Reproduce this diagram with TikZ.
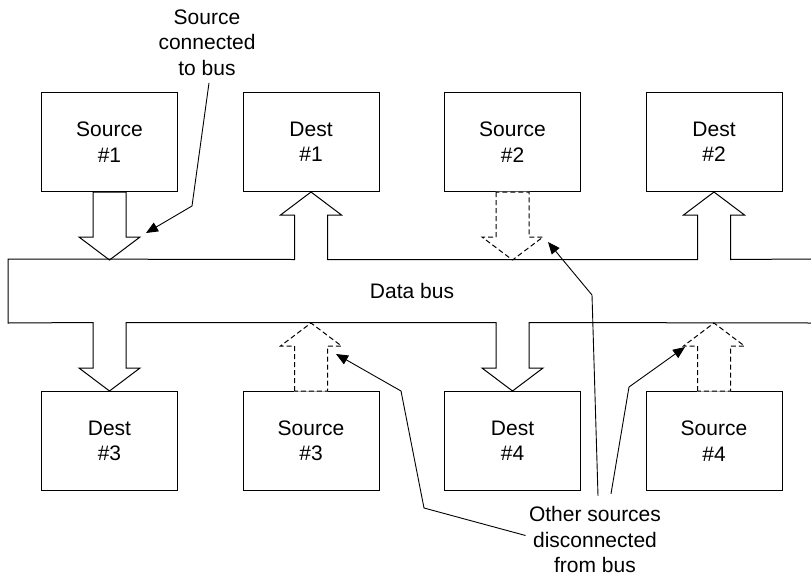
\documentclass[tikz,border=0pt]{standalone}
\usepackage{fontspec}
\setmainfont{Liberation Sans}
\usetikzlibrary{arrows.meta, calc}

\begin{document}
\begin{tikzpicture}[x=1pt, y=-1pt,
		>={Triangle[length=12pt,width=10pt]},   %tips of the callouts
		font=\fontsize{21}{25.5}\selectfont, line width=1pt,
		unit/.style={draw, minimum width=136pt, minimum height=99pt, align=center, inner sep=0pt},
		label/.style={align=center, inner sep=0pt},
		blockon/.style={draw, fill=white},
		blockoff/.style={draw, fill=white, dash pattern=on 5pt off 3pt, preaction={draw=white, solid}},
		callout/.style={->, line width=0.9pt}]
		%Bildbereich
		\useasboundingbox (0,0) rectangle (811,576);
		% top row
		\node[unit] (src1) at (109.5,142) {Source\\\#1};
		\node[unit] (dst1) at (311,142) {Dest\\\#1};
		\node[unit] (src2) at (512.5,142) {Source\\\#2};
		\node[unit] (dst2) at (714,142) {Dest\\\#2};
		% bottom row
		\node[unit] (dst3) at (109.5,441) {Dest\\\#3};
		\node[unit] (src3) at (311,441) {Source\\\#3};
		\node[unit] (dst4) at (512.5,441) {Dest\\\#4};
		\node[unit] (src4) at (714,441) {Source\\\#4};
		% sources: one on the bus, the others off it
		\draw[blockon] (src1.south) ++(-16.5,0) -- ++(0,45) -- ++(-14,0) -- ++(30.5,23) -- ++(30.5,-23) -- ++(-14,0) -- ++(0,-45) -- cycle;
		\draw[blockoff] (src2.south) ++(-16.5,0) -- ++(0,45) -- ++(-14,0) -- ++(30.5,23) -- ++(30.5,-23) -- ++(-14,0) -- ++(0,-45) -- cycle;
		\foreach \s in {src3,src4}
			\draw[blockoff] (\s.north) ++(-16.5,0) -- ++(0,-45) -- ++(-14,0) -- ++(30.5,-23) -- ++(30.5,23) -- ++(-14,0) -- ++(0,45) -- cycle;
		% the bus with the arrows to the destinations
		\draw (811,259) -- ($(dst2.south)+(16.5,67.5)$) -- ++(0,-44.5) -- ++(14,0) -- (dst2.south) -- ++(-30.5,23) -- ++(14,0) -- ++(0,44.5)
			-- ($(dst1.south)+(16.5,67.5)$) -- ++(0,-44.5) -- ++(14,0) -- (dst1.south) -- ++(-30.5,23) -- ++(14,0) -- ++(0,44.5)
			-- (8,259) -- (8,323)
			-- ($(dst3.north)+(-16.5,-68.5)$) -- ++(0,45.5) -- ++(-14,0) -- (dst3.north) -- ++(30.5,-23) -- ++(-14,0) -- ++(0,-45.5)
			-- ($(dst4.north)+(-16.5,-68.5)$) -- ++(0,45.5) -- ++(-14,0) -- (dst4.north) -- ++(30.5,-23) -- ++(-14,0) -- ++(0,-45.5)
			-- (811,323);
		\node (bus) at (412,291) {Data bus};
		% labels
		\node[label] (conn) at (207,42.5) {Source\\connected\\to bus};
		\node[label] (other) at (595,539.5) {Other sources\\disconnected\\from bus};
		% callouts
		\coordinate (tipA) at (146,233);
		\coordinate (bendA) at (192,206);
		\coordinate (tipB) at (336,354);
		\coordinate (bendB) at (401,391);
		\coordinate (kneeB) at (424,508);
		\coordinate (tipC) at (548,242);
		\coordinate (bendC) at (592,295);
		\coordinate (tipD) at (685,347);
		\coordinate (bendD) at (629,387);
		\draw[callout] ($(conn.south)+(2,7)$) -- (bendA) -- (tipA);
		\draw[callout] ($(other.west)+(-3,-4)$) -- (kneeB) -- (bendB) -- (tipB);
		\draw[callout] ($(other.north)+(3,-10)$) -- (bendC) -- (tipC);
		\draw[callout] ($(other.north)+(16,-12)$) -- (bendD) -- (tipD);
	\end{tikzpicture}
\end{document}
